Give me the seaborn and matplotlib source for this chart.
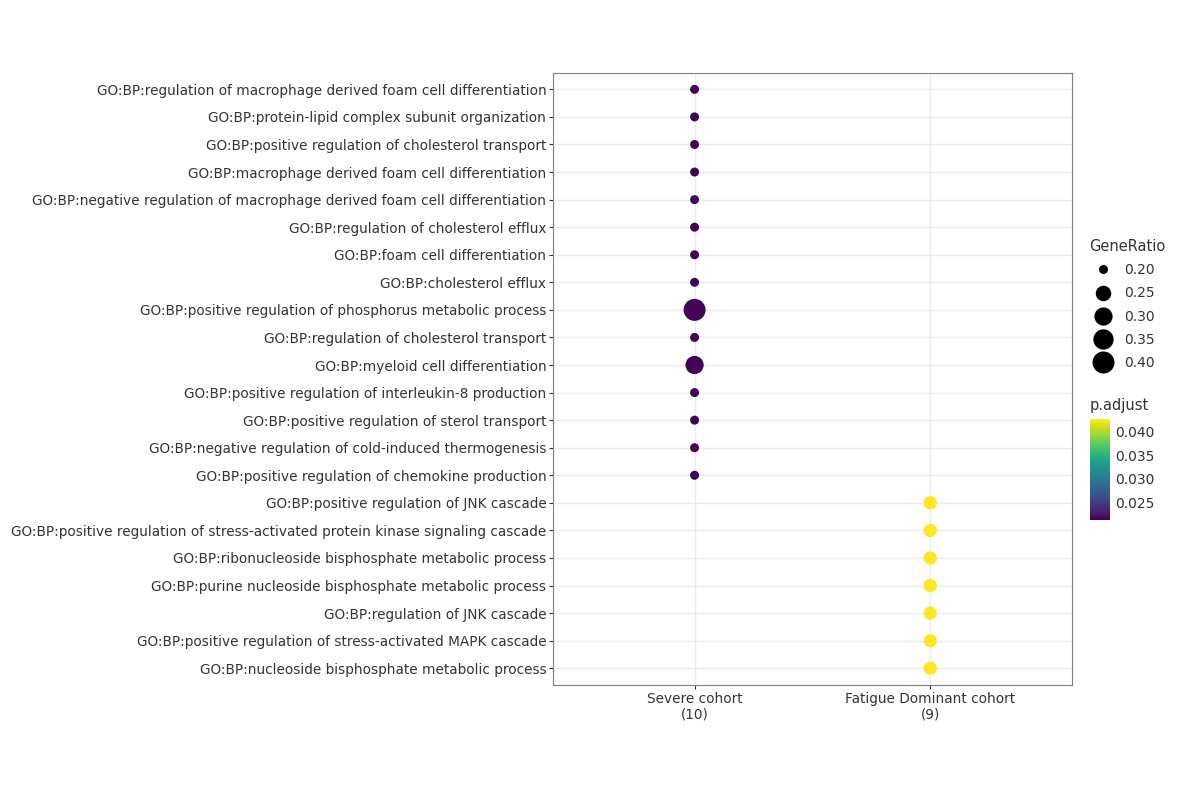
import numpy as np
import pandas as pd
import seaborn as sns
import matplotlib.pyplot as plt
from matplotlib.lines import Line2D
from matplotlib.colors import Normalize
from matplotlib.cm import ScalarMappable

terms = [
    "GO:BP:regulation of macrophage derived foam cell differentiation",
    "GO:BP:protein-lipid complex subunit organization",
    "GO:BP:positive regulation of cholesterol transport",
    "GO:BP:macrophage derived foam cell differentiation",
    "GO:BP:negative regulation of macrophage derived foam cell differentiation",
    "GO:BP:regulation of cholesterol efflux",
    "GO:BP:foam cell differentiation",
    "GO:BP:cholesterol efflux",
    "GO:BP:positive regulation of phosphorus metabolic process",
    "GO:BP:regulation of cholesterol transport",
    "GO:BP:myeloid cell differentiation",
    "GO:BP:positive regulation of interleukin-8 production",
    "GO:BP:positive regulation of sterol transport",
    "GO:BP:negative regulation of cold-induced thermogenesis",
    "GO:BP:positive regulation of chemokine production",
    "GO:BP:positive regulation of JNK cascade",
    "GO:BP:positive regulation of stress-activated protein kinase signaling cascade",
    "GO:BP:ribonucleoside bisphosphate metabolic process",
    "GO:BP:purine nucleoside bisphosphate metabolic process",
    "GO:BP:regulation of JNK cascade",
    "GO:BP:positive regulation of stress-activated MAPK cascade",
    "GO:BP:nucleoside bisphosphate metabolic process",
]
clusters = ["Severe cohort\n(10)"] * 15 + ["Fatigue Dominant cohort\n(9)"] * 7
gene_ratio = [0.2, 0.2, 0.2, 0.2, 0.2, 0.2, 0.2, 0.2, 0.4, 0.2, 0.3, 0.2, 0.2, 0.2, 0.2,
              0.222, 0.222, 0.222, 0.222, 0.222, 0.222, 0.222]
p_adjust = [0.0215] * 15 + [0.0425] * 7

size_breaks = [0.20, 0.25, 0.30, 0.35, 0.40]
color_ticks = [0.025, 0.030, 0.035, 0.040]

df = pd.DataFrame({"term": terms, "cluster": clusters,
                   "GeneRatio": gene_ratio, "p.adjust": p_adjust})


# ggplot-style area scale: diameter grows with sqrt of the rescaled value
def point_size(v, dmin=9.0, dmax=22.0):
    d = dmin + np.sqrt((v - 0.2) / 0.2) * (dmax - dmin)
    return (d * 0.72) ** 2


sns.set_style("white")
plt.rcParams["font.family"] = ["DejaVu Sans"]
text_col = "#333333"

fig = plt.figure(figsize=(12, 8), dpi=100)
ax = fig.add_axes([0.461, 0.144, 0.432, 0.765])

pnorm = Normalize(0.0214, 0.0425)
size_map = {v: point_size(v) for v in sorted(set(gene_ratio))}
sns.scatterplot(data=df, x="cluster", y="term", size="GeneRatio", hue="p.adjust",
                sizes=size_map, palette="viridis", hue_norm=pnorm,
                linewidth=0, legend=False, ax=ax, zorder=3)

ax.set_xlim(-0.6, 1.6)
ax.set_ylim(len(terms) - 1 + 0.6, -0.6)
ax.set_xlabel("")
ax.set_ylabel("")
ax.grid(True, color="#ebebeb", linewidth=1)
ax.set_axisbelow(True)
for s in ax.spines.values():
    s.set_color("#7f7f7f")
    s.set_linewidth(0.8)
ax.tick_params(axis="both", length=3, color="#333333", labelsize=9.8,
               labelcolor=text_col, pad=2, left=True, bottom=True)

# GeneRatio legend
handles = [Line2D([], [], marker="o", linestyle="", color="black", markeredgewidth=0,
                  markersize=np.sqrt(point_size(v)))
           for v in size_breaks]
leg = fig.legend(handles, [f"{v:.2f}" for v in size_breaks], title="GeneRatio",
                 loc="upper left", bbox_to_anchor=(0.903, 0.708), frameon=False,
                 fontsize=10, title_fontsize=10.5, labelspacing=0.66,
                 handletextpad=0.5, borderaxespad=0)
leg._legend_box.align = "left"
for t in leg.get_texts():
    t.set_color(text_col)
leg.get_title().set_color(text_col)

# p.adjust colorbar
fig.text(0.908, 0.484, "p.adjust", fontsize=10.5, color=text_col, va="bottom")
cax = fig.add_axes([0.9085, 0.35, 0.0165, 0.126])
cb = fig.colorbar(ScalarMappable(norm=pnorm, cmap="viridis"), cax=cax, ticks=color_ticks)
cb.outline.set_visible(False)
cb.ax.tick_params(labelsize=10, labelcolor=text_col, length=3, color="white",
                  direction="in", pad=4)
cb.ax.set_yticklabels([f"{v:.3f}" for v in color_ticks])

fig.savefig("out.png", dpi=100, facecolor="white")
